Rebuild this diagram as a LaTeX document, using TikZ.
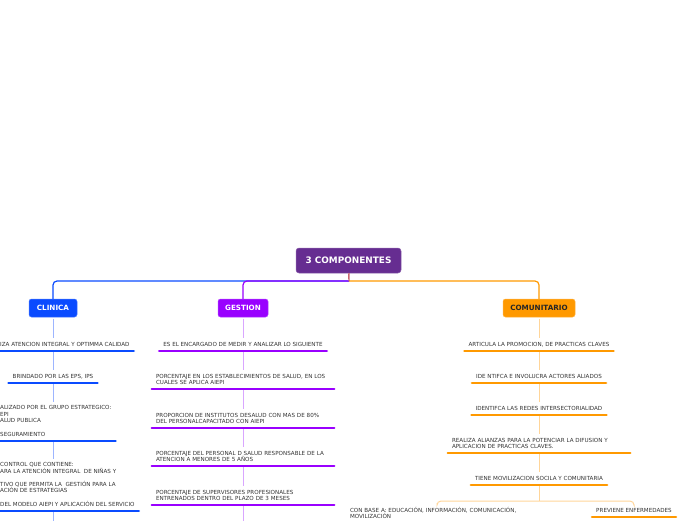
\documentclass[tikz,border=0pt]{standalone}
\usepackage{fontspec}
\setmainfont{DejaVu Sans}
\usetikzlibrary{positioning}
\definecolor{raiz}{HTML}{662D91}
\definecolor{azul}{HTML}{0A4BFF}
\definecolor{morado}{HTML}{9900FF}
\definecolor{naranja}{HTML}{FF9900}
\definecolor{azulclaro}{HTML}{9DB5FF}
\definecolor{moradoclaro}{HTML}{D9A6FF}
\definecolor{naranjaclaro}{HTML}{FFD599}
\definecolor{tallo}{HTML}{C8646E}
\definecolor{texto}{HTML}{333333}

\begin{document}
\begin{tikzpicture}[x=1pt,y=-1pt]
	\tikzset{every node/.style={font=\fontsize{5.6}{6.6}\selectfont,text=texto}}
	\tikzset{rama/.style={fill=#1,draw=#1!75!white,line width=0.5pt,rounded corners=2.5pt,text=white,minimum height=18pt,inner xsep=6pt,font=\bfseries\fontsize{7.2}{8}\selectfont}}
	\tikzset{idea/.style={anchor=south,inner xsep=4pt,inner ysep=3.5pt,text depth=1.2pt,append after command={(\tikzlastnode.south west) edge[draw=#1,line width=2.6pt,line cap=round] (\tikzlastnode.south east)}}}
	\tikzset{bloque/.style={text width=174pt,align=left,text depth={},inner ysep=3.8pt}}
	\tikzset{enlace/.style={draw=#1,line width=1pt,shorten <=1.3pt}}
	\useasboundingbox (0,0) rectangle (696,520);
	\clip (0,0) rectangle (696,520);
	% raiz y ramas
	\node[rama=raiz,minimum width=105pt,minimum height=25pt,rounded corners=3pt,font=\bfseries\fontsize{8.9}{10}\selectfont] (comp) at (348.5,260.5) {3 COMPONENTES};
	\node[rama=azul,minimum width=48pt] (clin) at (53,308) {CLINICA};
	\node[rama=morado,minimum width=50pt] (gest) at (243,308) {GESTION};
	\node[rama=naranja,minimum width=72pt,text=black!85] (comu) at (539,308) {COMUNITARIO};
	\coordinate (cruce) at (349,281);
	\draw[azul,line width=1.2pt,rounded corners=4pt] (cruce) -| (clin);
	\draw[morado,line width=1.2pt,rounded corners=4pt] (cruce) -| (gest);
	\draw[naranja,line width=1.2pt,rounded corners=4pt] (cruce) -| (comu);
	\draw[tallo,line width=1.4pt] (comp) -- (cruce);
	% clinica
	\node[idea=azul,anchor=south west] (c1) at (-4,351) {IZA ATENCION INTEGRAL Y OPTIMMA CALIDAD};
	\node[idea=azul] (c2) at (53,383) {BRINDADO POR LAS EPS, IPS};
	\node[idea=azul,anchor=south west,align=left] (c3) at (-4,441) {ALIZADO POR EL GRUPO ESTRATEGICO:\\EPI\\ALUD PUBLICA\\[6.6pt]SEGURAMIENTO};
	\node[idea=azul,anchor=south west,align=left] (c4) at (-4,511) {CONTROL QUE CONTIENE:\\ARA LA ATENCIÓN INTEGRAL \ DE NIÑAS Y\\[6.6pt]TIVO QUE PERMITA LA \ GESTIÓN PARA LA\\ACIÓN DE ESTRATEGIAS\\[6.6pt]DEL MODELO AIEPI Y APLICACIÓN DEL SERVICIO};
	\coordinate (c5) at (53,530);
	\draw[enlace=azulclaro] (clin) -- (clin |- c1.north);
	\draw[enlace=azulclaro] (c1.south -| clin) -- (c2);
	\draw[enlace=azulclaro] (c2) -- (c2 |- c3.north);
	\draw[enlace=azulclaro] (c3.south -| clin) -- (clin |- c4.north);
	\draw[enlace=azulclaro] (c4.south -| clin) -- (c5);
	% gestion
	\node[idea=morado] (g1) at (243,351) {ES EL ENCARGADO DE MEDIR Y ANALIZAR LO SIGUIENTE};
	\node[idea=morado,bloque] (g2) at (243,389) {PORCENTAJE EN LOS ESTABLECIMIENTOS DE SALUD, EN LOS\\CUALES SE APLICA AIEPI};
	\node[idea=morado,bloque] (g3) at (243,428) {PROPORCION DE INSTITUTOS DESALUD CON MAS DE 80\%\\DEL PERSONALCAPACITADO CON AIEPI};
	\node[idea=morado,bloque] (g4) at (243,466) {PORCENTAJE DEL PERSONAL D SALUD RESPONSABLE DE LA\\ATENCION A MENORES DE 5 AÑOS};
	\node[idea=morado,bloque] (g5) at (243,505) {PORCENTAJE DE SUPERVISORES PROFESIONALES\\ENTRENADOS DENTRO DEL PLAZO DE 3 MESES};
	\coordinate (g6) at (243,530);
	\draw[enlace=moradoclaro] (gest) -- (g1);
	\draw[enlace=moradoclaro] (g1) -- (g2);
	\draw[enlace=moradoclaro] (g2) -- (g3);
	\draw[enlace=moradoclaro] (g3) -- (g4);
	\draw[enlace=moradoclaro] (g4) -- (g5);
	\draw[enlace=moradoclaro] (g5) -- (g6);
	% comunitario
	\node[idea=naranja] (m1) at (539,351) {ARTICULA LA PROMOCION, DE PRACTICAS CLAVES};
	\node[idea=naranja] (m2) at (539,383) {IDE NTIFCA E INVOLUCRA ACTORES ALIADOS};
	\node[idea=naranja] (m3) at (539,415) {IDENTIFCA LAS REDES INTERSECTORIALIDAD};
	\node[idea=naranja,bloque] (m4) at (539,453) {REALIZA ALIANZAS PARA LA POTENCIAR LA DIFUSION Y\\APLICACION DE PRACTICAS CLAVES.};
	\node[idea=naranja] (m5) at (539,485) {TIENE MOVILIZACION SOCILA Y COMUNITARIA};
	\node[idea=naranja,bloque] (m6) at (437,523) {CON BASE A: EDUCACIÓN, INFORMACIÓN, COMUNICACIÓN,\\MOVILIZACIÓN};
	\node[idea=naranja] (m7) at (634,517) {PREVIENE ENFERMEDADES};
	\coordinate (llave) at (539,501);
	\draw[enlace=naranjaclaro] (comu) -- (m1);
	\draw[enlace=naranjaclaro] (m1) -- (m2);
	\draw[enlace=naranjaclaro] (m2) -- (m3);
	\draw[enlace=naranjaclaro] (m3) -- (m4);
	\draw[enlace=naranjaclaro] (m4) -- (m5);
	\draw[enlace=naranjaclaro] (m5) -- (llave);
	\draw[naranjaclaro,line width=1pt,rounded corners=4pt] (m6.north) |- (llave) -| (m7.north);
\end{tikzpicture}
\end{document}
